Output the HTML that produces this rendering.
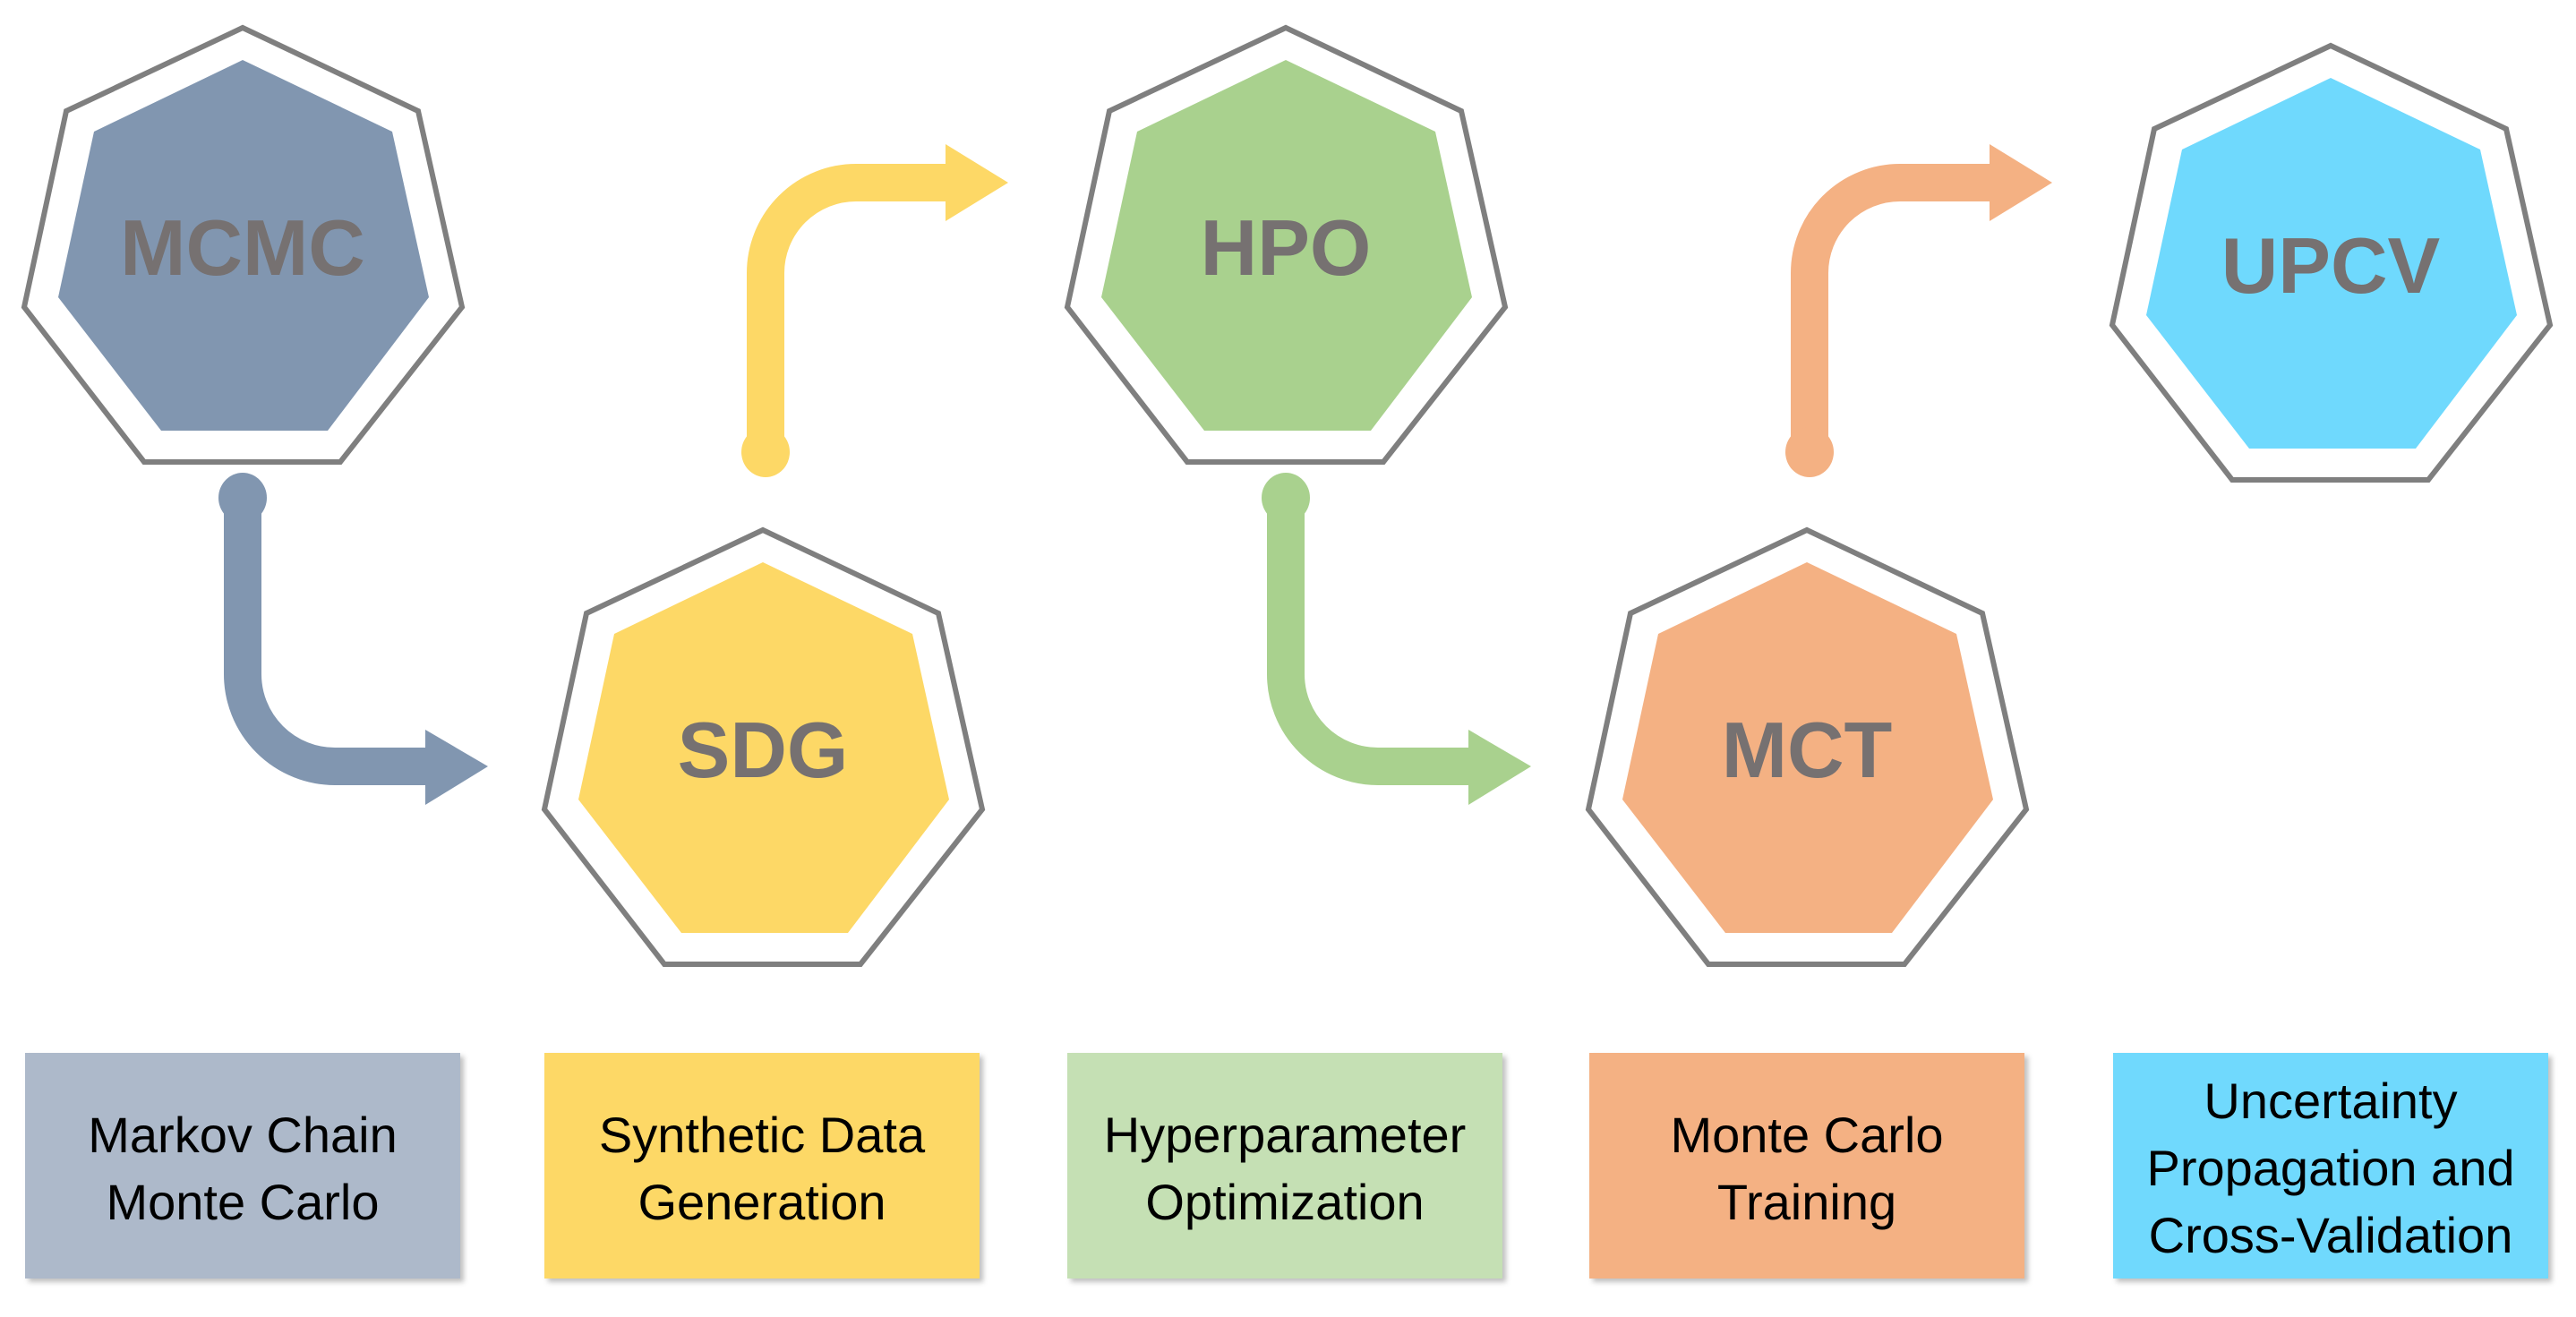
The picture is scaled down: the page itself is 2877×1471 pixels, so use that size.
<!DOCTYPE html>
<html><head><meta charset="utf-8"><style>
html,body{margin:0;padding:0;background:#fff;}
body{width:2877px;height:1466px;overflow:hidden;}
</style></head><body>
<svg width="2877" height="1466" viewBox="0 0 2877 1466" xmlns="http://www.w3.org/2000/svg">
<defs>
<g id="outer"><polygon points="0,0 196,93 245,312 109,485 -110,485 -244,312 -197,93" fill="none" stroke="#7f7f7f" stroke-width="6"/></g>
<filter id="sh" x="-5%" y="-5%" width="115%" height="115%"><feDropShadow dx="4" dy="4" stdDeviation="3" flood-color="#000" flood-opacity="0.25"/></filter>
</defs>
<g font-family="Liberation Sans, sans-serif">
<g transform="translate(271,31)"><use href="#outer"/><polygon points="0,36 167,116 208,301 95,450 -91,450 -206,301 -166,116" fill="#8196b0"/><text x="0" y="276" text-anchor="middle" font-size="88" font-weight="bold" fill="#767171">MCMC</text></g>
<g transform="translate(852,592)"><use href="#outer"/><polygon points="0,36 167,116 208,301 95,450 -91,450 -206,301 -166,116" fill="#fdd866"/><text x="0" y="276" text-anchor="middle" font-size="88" font-weight="bold" fill="#767171">SDG</text></g>
<g transform="translate(1436,31)"><use href="#outer"/><polygon points="0,36 167,116 208,301 95,450 -91,450 -206,301 -166,116" fill="#a9d18e"/><text x="0" y="276" text-anchor="middle" font-size="88" font-weight="bold" fill="#767171">HPO</text></g>
<g transform="translate(2018,592)"><use href="#outer"/><polygon points="0,36 167,116 208,301 95,450 -91,450 -206,301 -166,116" fill="#f4b183"/><text x="0" y="276" text-anchor="middle" font-size="88" font-weight="bold" fill="#767171">MCT</text></g>
<g transform="translate(2603,51)"><use href="#outer"/><polygon points="0,36 167,116 208,301 95,450 -91,450 -206,301 -166,116" fill="#6fd9fd"/><text x="0" y="276" text-anchor="middle" font-size="88" font-weight="bold" fill="#767171">UPCV</text></g>

<g fill="#8196b0">
<path d="M271,556 V753 A103,103 0 0 0 374,856 H480" fill="none" stroke="#8196b0" stroke-width="42"/>
<polygon points="475,815 545,856 475,899"/>
<ellipse cx="271" cy="556" rx="27" ry="28"/>
</g>
<g transform="translate(1165,0)" fill="#a9d18e">
<path d="M271,556 V753 A103,103 0 0 0 374,856 H480" fill="none" stroke="#a9d18e" stroke-width="42"/>
<polygon points="475,815 545,856 475,899"/>
<ellipse cx="271" cy="556" rx="27" ry="28"/>
</g>
<g fill="#fdd866">
<path d="M855,505 V305 A101,101 0 0 1 956,204 H1060" fill="none" stroke="#fdd866" stroke-width="42"/>
<polygon points="1056,161 1126,204 1056,247"/>
<ellipse cx="855" cy="505" rx="27" ry="28"/>
</g>
<g transform="translate(1166,0)" fill="#f4b183">
<path d="M855,505 V305 A101,101 0 0 1 956,204 H1060" fill="none" stroke="#f4b183" stroke-width="42"/>
<polygon points="1056,161 1126,204 1056,247"/>
<ellipse cx="855" cy="505" rx="27" ry="28"/>
</g>

<g font-size="56" fill="#000" text-anchor="middle">
<rect x="28" y="1176" width="486" height="252" fill="#adb9ca" filter="url(#sh)"/>
<text x="271" y="1287">Markov Chain</text><text x="271" y="1362">Monte Carlo</text>
<rect x="608" y="1176" width="486" height="252" fill="#fdd866" filter="url(#sh)"/>
<text x="851" y="1287">Synthetic Data</text><text x="851" y="1362">Generation</text>
<rect x="1192" y="1176" width="486" height="252" fill="#c5e0b4" filter="url(#sh)"/>
<text x="1435" y="1287">Hyperparameter</text><text x="1435" y="1362">Optimization</text>
<rect x="1775" y="1176" width="486" height="252" fill="#f4b183" filter="url(#sh)"/>
<text x="2018" y="1287">Monte Carlo</text><text x="2018" y="1362">Training</text>
<rect x="2360" y="1176" width="486" height="252" fill="#6fd9fd" filter="url(#sh)"/>
<text x="2603" y="1249">Uncertainty</text><text x="2603" y="1324">Propagation and</text><text x="2603" y="1399">Cross-Validation</text>
</g>
</g>
</svg>
</body></html>
